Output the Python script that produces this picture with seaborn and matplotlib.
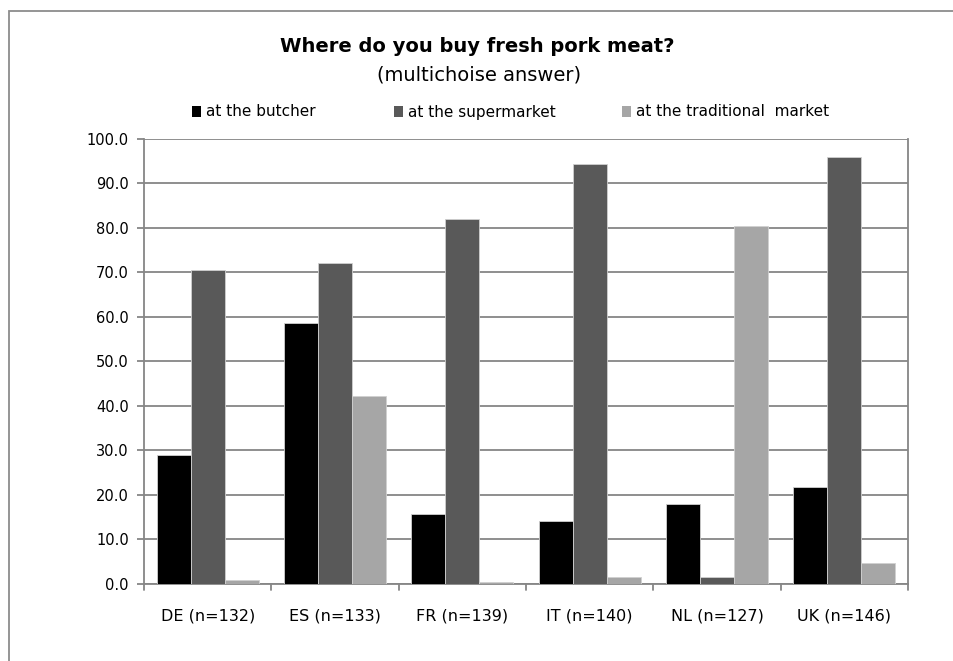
import matplotlib
matplotlib.use("Agg")
import matplotlib.pyplot as plt
import seaborn as sns
import pandas as pd
from matplotlib.patches import Rectangle, Patch
from matplotlib.ticker import FormatStrFormatter, FixedLocator

countries = ["DE (n=132)", "ES (n=133)", "FR (n=139)", "IT (n=140)", "NL (n=127)", "UK (n=146)"]
series_names = ["at the butcher", "at the supermarket", "at the traditional  market"]
butcher = [28.9, 58.7, 15.7, 14.1, 17.9, 21.7]
supermarket = [70.5, 72.1, 82.0, 94.3, 1.4, 95.9]
traditional = [0.8, 42.2, 0.4, 1.4, 80.4, 4.5]
colors = ["#000000", "#595959", "#A6A6A6"]

rows = []
for name, vals in zip(series_names, [butcher, supermarket, traditional]):
    for c, v in zip(countries, vals):
        rows.append({"country": c, "channel": name, "value": v})
df = pd.DataFrame(rows)

sns.set_style("white")
plt.rcParams["font.family"] = ["DejaVu Sans"]
plt.rcParams["text.color"] = "#000000"

W, H = 954, 661
fig = plt.figure(figsize=(W / 100, H / 100), dpi=100)
ax = fig.add_axes([144 / W, (H - 583.5) / H, (908 - 144) / W, (583.5 - 139) / H])

sns.barplot(data=df, x="country", y="value", hue="channel", palette=colors,
            saturation=1, width=0.8, gap=0, legend=False, ax=ax,
            edgecolor="#D0D0D0", linewidth=0.6, errorbar=None, zorder=3)

grid_c = "#868686"
ax.set_ylim(0, 100)
ax.set_xlim(-0.5, 5.5)
ax.yaxis.set_major_locator(FixedLocator([0, 10, 20, 30, 40, 50, 60, 70, 80, 90, 100]))
ax.yaxis.set_major_formatter(FormatStrFormatter("%.1f"))
ax.grid(axis="y", color=grid_c, linewidth=1.3, zorder=0)
ax.set_axisbelow(True)
ax.spines["top"].set_visible(False)
for s in ["left", "right", "bottom"]:
    ax.spines[s].set_color(grid_c)
    ax.spines[s].set_linewidth(1.3)
ax.spines["right"].set_visible(True)
ax.set_xlabel("")
ax.set_ylabel("")
ax.tick_params(axis="y", which="both", left=True, length=5, width=1.3, color=grid_c,
               labelsize=10.5, pad=6, labelcolor="#000000")
ax.set_xticks([i for i in range(6)])
ax.set_xticklabels(countries)
ax.tick_params(axis="x", length=0, labelsize=11.5, pad=18, labelcolor="#000000")
for b in [-0.5 + i for i in range(7)]:
    ax.plot([b, b], [0, -1.4], color=grid_c, linewidth=1.3, clip_on=False, zorder=1,
            transform=ax.transData)

fig.text(477 / W, 1 - 46 / H, "Where do you buy fresh pork meat?", ha="center", va="center",
         fontsize=14, fontweight="bold", color="#000000")
fig.text(479 / W, 1 - 75 / H, "(multichoise answer)", ha="center", va="center", fontsize=14,
         color="#000000")

legend_x = [192, 394, 622]
for name, c, lx in zip(series_names, colors, legend_x):
    leg = fig.legend([Patch(facecolor=c, edgecolor="none")], [name], loc="center left",
                     bbox_to_anchor=(lx / W, 1 - 112 / H), frameon=False, fontsize=11,
                     handlelength=0.6, handleheight=0.75, handletextpad=0.3,
                     borderaxespad=0, borderpad=0)
    for t in leg.get_texts():
        t.set_color("#000000")

fig.patches.append(Rectangle((9.5 / W, -0.2), 1.2, 1 - 11 / H + 0.2, transform=fig.transFigure,
                             fill=False, edgecolor="#8C8C8C", linewidth=1.3, zorder=0))

fig.savefig("out.png", dpi=100, facecolor="white")
